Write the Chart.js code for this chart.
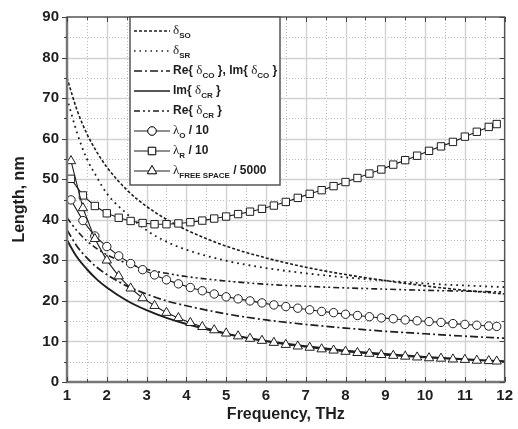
<!DOCTYPE html>
<html>
<head>
<meta charset="utf-8">
<script src="https://cdn.jsdelivr.net/npm/chart.js@4.4.0/dist/chart.umd.min.js"></script>
<style>
  html, body { margin: 0; padding: 0; background: #fff; }
</style>
</head>
<body>
<canvas id="chart" width="518" height="429"></canvas>
<script>
// frequencies (THz) where the marker curves are sampled
const markerFreq = [1.1, 1.4, 1.7, 2.0, 2.3, 2.6, 2.9, 3.2, 3.5, 3.8, 4.1, 4.4, 4.7, 5.0, 5.3, 5.6, 5.9,
  6.2, 6.5, 6.8, 7.1, 7.4, 7.7, 8.0, 8.3, 8.6, 8.9, 9.2, 9.5, 9.8, 10.1, 10.4, 10.7, 11.0, 11.3, 11.6, 11.8];
const lambdaO = [44.9, 39.8, 36.0, 33.4, 31.1, 29.2, 27.7, 26.4, 25.2, 24.2, 23.3, 22.5, 21.7, 21.0, 20.5, 20.0, 19.5,
  19.0, 18.6, 18.2, 17.8, 17.4, 17.1, 16.7, 16.4, 16.1, 15.8, 15.6, 15.3, 15.1, 14.9, 14.7, 14.4, 14.2, 14.0, 13.8, 13.7];
const lambdaR = [50.1, 46.0, 43.4, 41.6, 40.5, 39.7, 39.2, 38.9, 38.9, 39.1, 39.4, 39.8, 40.3, 40.8, 41.4, 42.0, 42.7,
  43.5, 44.4, 45.4, 46.4, 47.3, 48.3, 49.3, 50.3, 51.4, 52.4, 53.6, 54.7, 55.8, 57.0, 58.1, 59.2, 60.5, 61.7, 62.9, 63.6];
const lambdaFree = [54.5, 42.9, 35.3, 30.0, 26.1, 23.1, 20.7, 18.8, 17.1, 15.8, 14.6, 13.6, 12.8, 12.0, 11.3, 10.7, 10.2,
  9.7, 9.2, 8.8, 8.5, 8.1, 7.8, 7.5, 7.2, 7.0, 6.7, 6.5, 6.3, 6.1, 5.9, 5.8, 5.6, 5.5, 5.3, 5.2, 5.1];

// frequencies for the plain line curves
const lineFreq = [1, 1.25, 1.5, 1.75, 2, 2.5, 3, 3.5, 4, 5, 6, 7, 8, 9, 10, 11, 12];
const deltaSO = [75.0, 67.1, 61.2, 56.7, 53.0, 47.4, 43.3, 40.1, 37.5, 33.5, 30.6, 28.3, 26.5, 25.0, 23.7, 22.6, 21.7];
const deltaSR = [70.0, 61.5, 55.0, 50.5, 46.5, 41.5, 37.4, 34.6, 32.6, 29.9, 28.1, 26.8, 25.8, 25.0, 24.3, 23.8, 23.4];
const deltaCO = [37.5, 33.5, 30.6, 28.3, 26.5, 23.7, 21.7, 20.0, 18.8, 16.8, 15.3, 14.2, 13.3, 12.5, 11.9, 11.3, 10.8];
const imDeltaCR = [35.0, 30.8, 27.8, 25.3, 23.3, 20.1, 17.7, 15.8, 14.3, 11.9, 10.1, 8.8, 7.7, 6.9, 6.2, 5.6, 5.1];
const reDeltaCR = [40.5, 37.3, 34.8, 32.9, 31.4, 29.3, 27.8, 26.8, 26.0, 24.9, 24.1, 23.6, 23.2, 22.9, 22.6, 22.4, 22.2];

const xTicks = [1, 2, 3, 4, 5, 6, 7, 8, 9, 10, 11, 12];
const yTicks = [0, 10, 20, 30, 40, 50, 60, 70, 80, 90];

const INK = '#1e1e1e';
const FONT = '"Liberation Sans", Arial, sans-serif';
const pts = (xs, ys) => xs.map((x, i) => ({ x: x, y: ys[i] }));

const markerSet = (data, style, r) => ({
  data: data, showLine: true, borderColor: INK, borderWidth: 1.1, tension: 0,
  pointStyle: style, pointRadius: r, pointBackgroundColor: '#fff', pointBorderColor: INK, pointBorderWidth: 1
});
const lineSet = (data, dash, w) => ({
  data: data, showLine: true, borderColor: INK, borderWidth: w, borderDash: dash,
  cubicInterpolationMode: 'monotone', pointRadius: 0
});

// legend rows: line dash, marker, text pieces
const B = 'bold 12px ' + FONT;
const G = '13px "Liberation Serif", "Times New Roman", serif';
const S = 'bold 8px ' + FONT;
const legendRows = [
  { dash: [3, 2], marker: null, parts: [['δ', G], ['SO', S, 5]] },
  { dash: [1.5, 4], marker: null, parts: [['δ', G], ['SR', S, 5]] },
  { dash: [8, 3, 2, 3], marker: null, parts: [['Re{ ', B], ['δ', G], ['CO', S, 5], [' }, Im{ ', B], ['δ', G], ['CO', S, 5], [' }', B]] },
  { dash: [], marker: null, parts: [['Im{ ', B], ['δ', G], ['CR', S, 5], [' }', B]] },
  { dash: [6, 3, 2, 3, 2, 3], marker: null, parts: [['Re{ ', B], ['δ', G], ['CR', S, 5], [' }', B]] },
  { dash: [], marker: 'circle', parts: [['λ', G], ['O', S, 5], [' / 10', B]] },
  { dash: [], marker: 'rect', parts: [['λ', G], ['R', S, 5], [' / 10', B]] },
  { dash: [], marker: 'triangle', parts: [['λ', G], ['FREE SPACE', S, 5], [' / 5000', B]] }
];
const markerSize = { circle: 4.2, rect: 5.2, triangle: 5.4 };

const framePlugin = {
  id: 'frame',
  beforeDatasetsDraw(chart) {
    const { ctx, chartArea: a, scales: { x, y } } = chart;
    const vline = v => { const p = Math.round(x.getPixelForValue(v)) + 0.5; ctx.beginPath(); ctx.moveTo(p, a.top); ctx.lineTo(p, a.bottom); ctx.stroke(); };
    const hline = v => { const p = Math.round(y.getPixelForValue(v)) + 0.5; ctx.beginPath(); ctx.moveTo(a.left, p); ctx.lineTo(a.right, p); ctx.stroke(); };
    ctx.save();
    // minor dotted grid
    ctx.strokeStyle = '#b8b8b8'; ctx.lineWidth = 1; ctx.setLineDash([1, 2]);
    xTicks.slice(0, -1).forEach(v => vline(v + 0.5));
    yTicks.slice(0, -1).forEach(v => hline(v + 5));
    // major grid
    ctx.setLineDash([]); ctx.strokeStyle = '#d2d2d2'; ctx.lineWidth = 1.4;
    xTicks.slice(1, -1).forEach(vline);
    yTicks.slice(1, -1).forEach(hline);
    ctx.restore();
  },
  afterDatasetsDraw(chart) {
    const { ctx, chartArea: a, scales: { x, y } } = chart;
    ctx.save();
    // frame
    ctx.strokeStyle = '#555'; ctx.lineWidth = 1.5;
    ctx.strokeRect(a.left, a.top, a.right - a.left, a.bottom - a.top);
    ctx.strokeStyle = '#777'; ctx.lineWidth = 2.5;
    ctx.beginPath(); ctx.moveTo(a.left, a.top); ctx.lineTo(a.left, a.bottom); ctx.lineTo(a.right, a.bottom); ctx.stroke();
    // ticks
    ctx.strokeStyle = '#444'; ctx.lineWidth = 1;
    xTicks.forEach(v => {
      [[v, 5], [v + 0.5, 3]].forEach(([t, len]) => {
        if (t > 12) return;
        const p = Math.round(x.getPixelForValue(t)) + 0.5;
        ctx.beginPath(); ctx.moveTo(p, a.bottom); ctx.lineTo(p, a.bottom - len); ctx.stroke();
        ctx.beginPath(); ctx.moveTo(p, a.top); ctx.lineTo(p, a.top + len); ctx.stroke();
      });
    });
    yTicks.forEach(v => {
      [[v, 5], [v + 5, 3]].forEach(([t, len]) => {
        if (t > 90) return;
        const p = Math.round(y.getPixelForValue(t)) + 0.5;
        ctx.beginPath(); ctx.moveTo(a.left - len, p); ctx.lineTo(a.left, p); ctx.stroke();
        ctx.beginPath(); ctx.moveTo(a.right, p); ctx.lineTo(a.right - len, p); ctx.stroke();
      });
    });
    // legend box
    const lx = 130, ly = a.top, lw = 150, lh = 168;
    ctx.fillStyle = '#fff'; ctx.fillRect(lx, ly, lw, lh);
    ctx.strokeStyle = '#555'; ctx.lineWidth = 1.5; ctx.strokeRect(lx, ly, lw, lh);
    legendRows.forEach((row, i) => {
      const cy = ly + 14 + i * 20;
      ctx.strokeStyle = INK; ctx.lineWidth = row.marker ? 1.1 : 1.4;
      ctx.setLineDash(row.dash);
      ctx.beginPath(); ctx.moveTo(lx + 4, cy); ctx.lineTo(lx + 40, cy); ctx.stroke();
      ctx.setLineDash([]);
      if (row.marker) {
        ctx.fillStyle = '#fff'; ctx.lineWidth = 1;
        Chart.helpers.drawPoint(ctx, { pointStyle: row.marker, radius: markerSize[row.marker], borderWidth: 1 }, lx + 22, cy);
        ctx.fill(); ctx.stroke();
      }
      ctx.fillStyle = INK; ctx.textBaseline = 'middle';
      let tx = lx + 43;
      row.parts.forEach(([t, f, dy]) => {
        ctx.font = f;
        ctx.fillText(t, tx, cy + (dy || 0));
        tx += ctx.measureText(t).width;
      });
    });
    ctx.restore();
  }
};

new Chart(document.getElementById('chart'), {
  type: 'scatter',
  data: {
    datasets: [
      markerSet(pts(markerFreq, lambdaFree), 'triangle', markerSize.triangle),
      markerSet(pts(markerFreq, lambdaR), 'rect', markerSize.rect),
      markerSet(pts(markerFreq, lambdaO), 'circle', markerSize.circle),
      lineSet(pts(lineFreq, imDeltaCR), [], 1.9),
      lineSet(pts(lineFreq, deltaCO), [8, 3, 2, 3], 1.7),
      lineSet(pts(lineFreq, reDeltaCR), [6, 3, 2, 3, 2, 3], 1.6),
      lineSet(pts(lineFreq, deltaSR), [1.8, 4], 1.8),
      lineSet(pts(lineFreq, deltaSO), [3, 2], 1.6)
    ]
  },
  options: {
    responsive: false,
    animation: false,
    devicePixelRatio: 1,
    layout: { padding: { top: 12, right: 7, left: 0, bottom: 0 } },
    plugins: { legend: { display: false }, tooltip: { enabled: false } },
    scales: {
      x: {
        type: 'linear', min: 1, max: 12,
        afterBuildTicks: s => { s.ticks = xTicks.map(v => ({ value: v })); },
        ticks: { color: INK, font: { family: FONT, size: 15, weight: 'bold' }, padding: 5, maxRotation: 0 },
        grid: { display: false, drawTicks: false },
        border: { display: false },
        title: { display: true, text: 'Frequency, THz', color: INK, font: { family: FONT, size: 16, weight: 'bold' }, padding: { top: 0, bottom: 5 } },
        afterFit: s => { s.height = 47; }
      },
      y: {
        type: 'linear', min: 0, max: 90,
        afterBuildTicks: s => { s.ticks = yTicks.map(v => ({ value: v })); },
        ticks: { color: INK, font: { family: FONT, size: 15, weight: 'bold' }, padding: 8 },
        grid: { display: false, drawTicks: false },
        border: { display: false },
        title: { display: true, text: 'Length, nm', color: INK, font: { family: FONT, size: 16, weight: 'bold' }, padding: { top: 10, bottom: 0 } },
        afterFit: s => { s.width = 67; }
      }
    }
  },
  plugins: [framePlugin]
});
</script>
</body>
</html>
